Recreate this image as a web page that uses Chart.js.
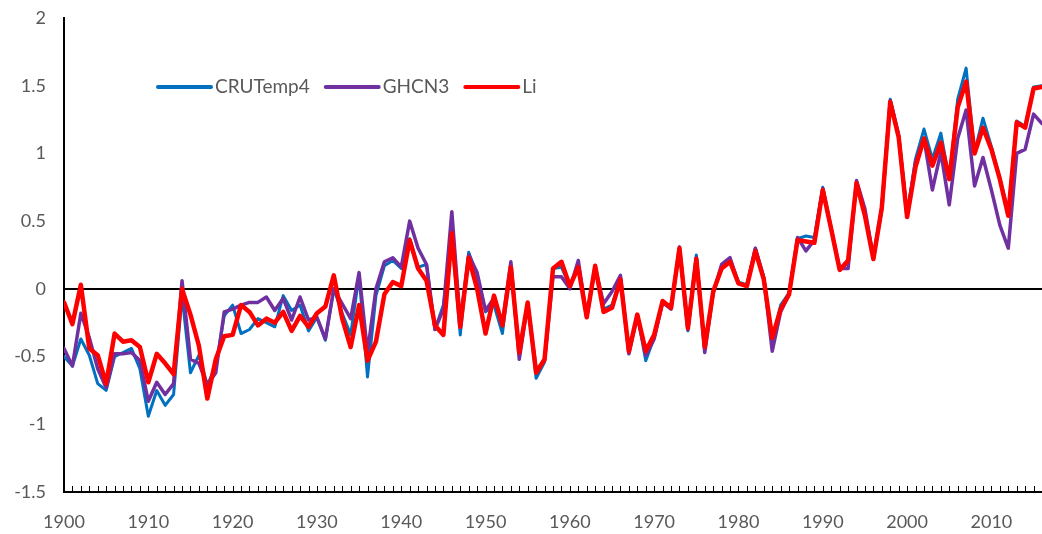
<!DOCTYPE html>
<html>
<head>
<meta charset="utf-8">
<script src="https://cdn.jsdelivr.net/npm/chart.js@4"></script>
<style>
  html, body { margin: 0; padding: 0; background: #fff; }
  #wrap { width: 1042px; height: 534px; }
</style>
</head>
<body>
<div id="wrap"><canvas id="chart"></canvas></div>
<script>
'use strict';
// years on the x axis
const firstYear = 1900;
const lastYear = 2016;
const years = [];
for (let y = firstYear; y <= lastYear; y++) years.push(y);

// y tick labels
const yTicks = [-1.5, -1, -0.5, 0, 0.5, 1, 1.5, 2];

// series values, 1900..2016
const cruTemp4 = [
  -0.50, -0.57, -0.37, -0.49, -0.70, -0.75, -0.50, -0.47, -0.44, -0.59,
  -0.94, -0.75, -0.86, -0.78, -0.05, -0.62, -0.49, -0.71, -0.57, -0.20,
  -0.12, -0.33, -0.30, -0.22, -0.25, -0.28, -0.05, -0.16, -0.12, -0.31,
  -0.21, -0.38, 0.00, -0.18, -0.34, 0.10, -0.65, -0.05, 0.17, 0.21,
  0.15, 0.37, 0.16, 0.18, -0.30, -0.12, 0.39, -0.34, 0.27, 0.10,
  -0.17, -0.12, -0.33, 0.18, -0.49, -0.10, -0.66, -0.54, 0.15, 0.16,
  0.02, 0.18, -0.21, 0.16, -0.15, -0.12, 0.08, -0.47, -0.19, -0.53,
  -0.36, -0.10, -0.14, 0.30, -0.31, 0.25, -0.45, -0.03, 0.16, 0.22,
  0.05, 0.03, 0.30, 0.09, -0.39, -0.12, -0.03, 0.37, 0.39, 0.38,
  0.75, 0.44, 0.15, 0.19, 0.79, 0.56, 0.24, 0.61, 1.40, 1.14,
  0.55, 0.96, 1.18, 0.96, 1.15, 0.81, 1.40, 1.63, 1.01, 1.26,
  1.05, 0.82, 0.57, 1.24, 1.20, 1.49, 1.50
];
const ghcn3 = [
  -0.44, -0.57, -0.18, -0.36, -0.59, -0.73, -0.48, -0.48, -0.47, -0.53,
  -0.83, -0.69, -0.78, -0.70, 0.06, -0.52, -0.55, -0.71, -0.62, -0.17,
  -0.15, -0.12, -0.10, -0.10, -0.06, -0.16, -0.07, -0.23, -0.06, -0.23,
  -0.21, -0.37, 0.00, -0.11, -0.22, 0.12, -0.47, 0.00, 0.20, 0.23,
  0.16, 0.50, 0.30, 0.18, -0.30, -0.15, 0.57, -0.25, 0.25, 0.12,
  -0.16, -0.07, -0.26, 0.20, -0.52, -0.11, -0.60, -0.53, 0.09, 0.09,
  0.00, 0.21, -0.21, 0.16, -0.11, -0.02, 0.10, -0.48, -0.20, -0.49,
  -0.37, -0.10, -0.15, 0.31, -0.30, 0.23, -0.47, -0.03, 0.18, 0.23,
  0.04, 0.02, 0.30, 0.08, -0.46, -0.17, -0.04, 0.38, 0.28, 0.36,
  0.74, 0.44, 0.15, 0.15, 0.80, 0.59, 0.23, 0.59, 1.39, 1.13,
  0.54, 0.94, 1.11, 0.73, 1.01, 0.62, 1.11, 1.32, 0.76, 0.97,
  0.73, 0.47, 0.30, 1.00, 1.03, 1.29, 1.22
];
const li = [
  -0.10, -0.26, 0.03, -0.44, -0.49, -0.70, -0.33, -0.39, -0.38, -0.43,
  -0.69, -0.48, -0.55, -0.63, 0.00, -0.19, -0.42, -0.81, -0.52, -0.35,
  -0.34, -0.12, -0.17, -0.27, -0.22, -0.25, -0.17, -0.31, -0.20, -0.28,
  -0.18, -0.13, 0.10, -0.22, -0.43, -0.12, -0.53, -0.39, -0.04, 0.05,
  0.02, 0.36, 0.15, 0.06, -0.27, -0.34, 0.41, -0.28, 0.23, 0.00,
  -0.33, -0.05, -0.27, 0.16, -0.47, -0.10, -0.62, -0.52, 0.15, 0.20,
  0.02, 0.16, -0.21, 0.17, -0.17, -0.14, 0.07, -0.46, -0.19, -0.46,
  -0.34, -0.09, -0.14, 0.30, -0.29, 0.22, -0.43, -0.02, 0.15, 0.20,
  0.04, 0.02, 0.28, 0.07, -0.36, -0.15, -0.04, 0.36, 0.35, 0.34,
  0.73, 0.44, 0.14, 0.21, 0.78, 0.54, 0.22, 0.60, 1.38, 1.12,
  0.53, 0.90, 1.11, 0.91, 1.08, 0.81, 1.34, 1.53, 1.00, 1.19,
  1.03, 0.81, 0.54, 1.23, 1.19, 1.48, 1.49
];

const FONT = 'Lato, "Open Sans", sans-serif';
const TEXT = '#595959';

const toPoints = vals => vals.map((v, i) => ({ x: years[i], y: v }));

// small upward ticks at every year on the x axis
const yearTicks = {
  id: 'yearTicks',
  afterDraw(chart) {
    const { ctx, chartArea, scales } = chart;
    ctx.save();
    ctx.strokeStyle = '#000';
    ctx.lineWidth = 1;
    ctx.beginPath();
    years.forEach(y => {
      const px = Math.round(scales.x.getPixelForValue(y)) + 0.5;
      ctx.moveTo(px, chartArea.bottom);
      ctx.lineTo(px, chartArea.bottom - 6);
    });
    ctx.stroke();
    ctx.restore();
  }
};

// legend drawn inside the plot, as in the original
const innerLegend = {
  id: 'innerLegend',
  afterDraw(chart) {
    const { ctx, chartArea } = chart;
    const y = chartArea.top + 69;
    let x = chartArea.left + 94;
    ctx.save();
    ctx.font = '19px ' + FONT;
    ctx.textBaseline = 'middle';
    chart.data.datasets.forEach(ds => {
      ctx.strokeStyle = ds.borderColor;
      ctx.lineWidth = 4;
      ctx.lineCap = 'round';
      ctx.beginPath();
      ctx.moveTo(x, y);
      ctx.lineTo(x + 53, y);
      ctx.stroke();
      ctx.fillStyle = TEXT;
      ctx.fillText(ds.label, x + 57, y);
      x += 57 + ctx.measureText(ds.label).width + 16;
    });
    ctx.restore();
  }
};

const data = {
  datasets: [{
    label: 'CRUTemp4',
    data: toPoints(cruTemp4),
    borderColor: '#0070C0',
    borderWidth: 3,
    order: 3
  }, {
    label: 'GHCN3',
    data: toPoints(ghcn3),
    borderColor: '#7030A0',
    borderWidth: 3.5,
    order: 2
  }, {
    label: 'Li',
    data: toPoints(li),
    borderColor: '#FF0000',
    borderWidth: 4.5,
    order: 1
  }]
};

const config = {
  type: 'line',
  data: data,
  plugins: [yearTicks, innerLegend],
  options: {
    responsive: true,
    maintainAspectRatio: false,
    animation: false,
    events: [],
    layout: { padding: { top: 18, right: 0, left: 0, bottom: 0 } },
    elements: {
      point: { radius: 0 },
      line: { tension: 0, borderJoinStyle: 'round', borderCapStyle: 'round' }
    },
    plugins: {
      legend: { display: false },
      tooltip: { enabled: false }
    },
    scales: {
      x: {
        type: 'linear',
        min: firstYear,
        max: lastYear,
        afterFit(scale) {
          scale.height = 42;
          scale.paddingLeft = 0;
          scale.paddingRight = 0;
        },
        grid: { display: false },
        border: { display: true, color: '#000', width: 2 },
        ticks: {
          stepSize: 10,
          includeBounds: false,
          maxRotation: 0,
          autoSkip: false,
          padding: 11,
          color: TEXT,
          font: { family: FONT, size: 18 },
          callback: v => (v % 10 === 0 ? String(v) : '')
        }
      },
      y: {
        min: yTicks[0],
        max: yTicks[yTicks.length - 1],
        afterFit(scale) {
          scale.width = 64;
          scale.paddingTop = 0;
          scale.paddingBottom = 0;
        },
        afterBuildTicks(scale) { scale.ticks = yTicks.map(v => ({ value: v })); },
        border: { display: true, color: '#000', width: 2 },
        grid: {
          drawTicks: false,
          lineWidth: 2,
          color: ctx => (ctx.tick && ctx.tick.value === 0 ? '#000' : 'rgba(0,0,0,0)')
        },
        ticks: {
          padding: 18,
          color: TEXT,
          font: { family: FONT, size: 18 },
          callback: v => String(v)
        }
      }
    }
  }
};

const canvasElem = document.getElementById('chart');
const myChart = new Chart(canvasElem, config);
</script>
</body>
</html>
